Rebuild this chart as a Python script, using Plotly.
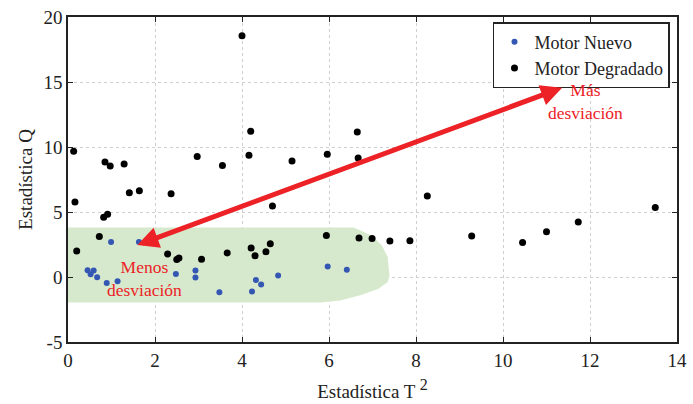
import plotly.graph_objects as go

# ---- data ----
nuevo_t2 = [0.99, 1.63, 0.45, 0.52, 0.59, 0.67, 0.89, 1.14, 2.48, 2.93, 2.93, 3.48,
            4.23, 4.32, 4.44, 4.83, 5.97, 6.41]
nuevo_q = [2.69, 2.69, 0.52, 0.21, 0.50, -0.01, -0.47, -0.32, 0.24, 0.50, -0.04, -1.18,
           -1.11, -0.24, -0.57, 0.11, 0.80, 0.55]

degradado_t2 = [4.00, 0.13, 0.85, 0.97, 1.29, 2.97, 3.55, 4.20, 4.16, 5.15, 5.96, 6.65, 6.67,
                0.16, 1.41, 1.64, 2.37, 0.82, 0.91, 4.70, 0.72, 0.20, 2.29, 2.50, 2.55,
                3.07, 3.66, 4.21, 4.30, 4.55, 4.65, 5.94, 6.69, 6.99, 7.40, 7.86, 8.26,
                9.28, 10.45, 11.00, 11.73, 13.50]
degradado_q = [18.56, 9.67, 8.85, 8.53, 8.70, 9.27, 8.58, 11.22, 9.36, 8.93, 9.45, 11.15, 9.16,
               5.77, 6.48, 6.64, 6.41, 4.60, 4.83, 5.47, 3.12, 2.00, 1.77, 1.34, 1.47,
               1.36, 1.85, 2.23, 1.64, 1.95, 2.56, 3.20, 3.00, 2.97, 2.77, 2.79, 6.23,
               3.15, 2.66, 3.48, 4.24, 5.34]

# normal-operation zone outline
zona_t2 = [0, 6.57, 6.99, 7.22, 7.35, 7.39, 7.35, 7.14, 6.72, 6.26, 5.80, 0]
zona_q = [3.8, 3.8, 3.17, 2.41, 1.51, 0.11, -0.39, -0.9, -1.41, -1.8, -1.97, -1.97]

x_ticks = [0, 2, 4, 6, 8, 10, 12, 14]
y_ticks = [-5, 0, 5, 10, 15, 20]
y_ticklabels = ["-5", "0", "5", "10", "15", "20"]

FONT = "Liberation Serif, Times New Roman, DejaVu Serif, serif"
RED = "#ec2227"
INK = "#222"

fig = go.Figure()
fig.add_trace(go.Scatter(x=zona_t2, y=zona_q, fill="toself", mode="lines",
                         line=dict(width=0), fillcolor="#d7e9cc",
                         hoverinfo="skip", showlegend=False))
fig.add_trace(go.Scatter(x=nuevo_t2, y=nuevo_q, mode="markers", name="Motor Nuevo",
                         marker=dict(color="#3457b4", size=6)))
fig.add_trace(go.Scatter(x=degradado_t2, y=degradado_q, mode="markers", name="Motor Degradado",
                         marker=dict(color="#000000", size=7)))

# double-headed arrow
fig.add_annotation(x=11.36, y=14.56, ax=1.56, ay=2.41, xref="x", yref="y",
                   axref="x", ayref="y", text="", showarrow=True,
                   arrowhead=2, startarrowhead=2, arrowside="end+start",
                   arrowsize=0.85, startarrowsize=0.85, arrowwidth=5, arrowcolor=RED,
                   standoff=0, startstandoff=0)
fig.add_annotation(x=11.89, y=13.5, text="Más<br>desviación", showarrow=False,
                   font=dict(family=FONT, size=17.5, color=RED))
fig.add_annotation(x=1.75, y=-0.11, text="Menos<br>desviación", showarrow=False,
                   font=dict(family=FONT, size=17.5, color=RED))

axis_common = dict(showline=True, linecolor=INK, linewidth=1.5, mirror="allticks",
                   ticks="inside", ticklen=5, tickcolor=INK, showgrid=True,
                   gridcolor="#cfcfcf", griddash="3px,3px", gridwidth=1, zeroline=False,
                   ticklabeloverflow="allow",
                   tickfont=dict(family=FONT, size=19, color=INK))

fig.update_xaxes(range=[0, 14], tickvals=x_ticks,
                 title=dict(text="Estadística T <sup><span style='font-size:16px'>2</span></sup>",
                            font=dict(family=FONT, size=19, color=INK), standoff=15),
                 **axis_common)
fig.update_yaxes(range=[-5, 20], tickvals=y_ticks, ticktext=y_ticklabels,
                 title=dict(text="Estadística Q",
                            font=dict(family=FONT, size=19, color=INK), standoff=6),
                 **axis_common)

fig.update_layout(
    width=693, height=404,
    margin=dict(l=68, r=16, t=17, b=62, autoexpand=False),
    plot_bgcolor="white", paper_bgcolor="white",
    legend=dict(x=0.9885, y=0.9846, xanchor="right", yanchor="top",
                bgcolor="white", bordercolor=INK, borderwidth=1.5,
                font=dict(family=FONT, size=18, color=INK),
                itemwidth=30, tracegroupgap=0),
    showlegend=True,
)

fig.write_html("out.html", config={"displayModeBar": False},
               post_script="document.body.style.margin='0';document.body.style.overflow='hidden';")
